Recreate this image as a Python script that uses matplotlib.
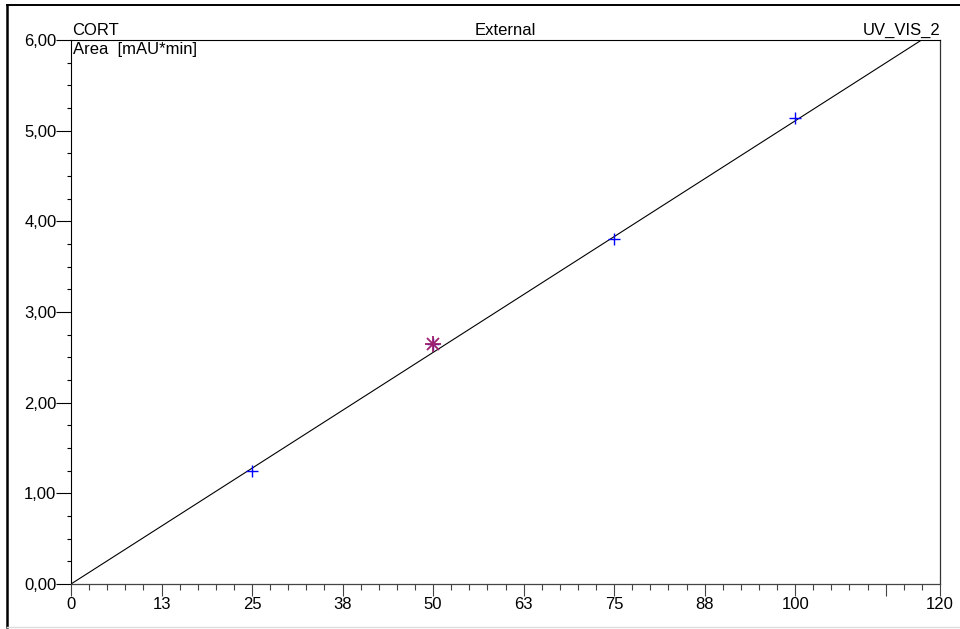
import numpy as np
import matplotlib.pyplot as plt
from matplotlib.lines import Line2D
from matplotlib.ticker import MultipleLocator, FixedLocator, FixedFormatter

plt.rcParams['font.family'] = ['Liberation Sans', 'DejaVu Sans']

# calibration standards
conc = [25, 50, 75, 100]
area = [1.25, 2.65, 3.80, 5.14]
highlight_x = [50]
highlight_y = [2.65]

# calibration line
fit_x = [0, 120]
fit_y = [0, 6.13]

x_ticks = [0, 12.5, 25, 37.5, 50, 62.5, 75, 87.5, 100, 112.5, 120]
x_labels = ['0', '13', '25', '38', '50', '63', '75', '88', '100', '', '120']
y_ticks = [0, 1, 2, 3, 4, 5, 6]
y_labels = ['0,00', '1,00', '2,00', '3,00', '4,00', '5,00', '6,00']

fig = plt.figure(figsize=(9.6, 6.29), dpi=100)
ax = fig.add_axes([71 / 960, 45 / 629, 869 / 960, 544 / 629])

ax.plot(fit_x, fit_y, color='black', linewidth=0.8, zorder=2)
ax.plot(conc, area, linestyle='none', marker='+', color='#0000ff',
        markersize=9, markeredgewidth=1.0, zorder=3)
ax.plot(highlight_x, highlight_y, linestyle='none', marker='+', color='#9e1f6e',
        markersize=12, markeredgewidth=1.3, zorder=4)
ax.plot(highlight_x, highlight_y, linestyle='none', marker='x', color='#9e1f6e',
        markersize=8, markeredgewidth=1.3, zorder=4)

ax.set_xlim(0, 120)
ax.set_ylim(0, 6)

ax.xaxis.set_major_locator(FixedLocator(x_ticks))
ax.xaxis.set_major_formatter(FixedFormatter(x_labels))
ax.xaxis.set_minor_locator(MultipleLocator(2.5))
ax.yaxis.set_major_locator(FixedLocator(y_ticks))
ax.yaxis.set_major_formatter(FixedFormatter(y_labels))
ax.yaxis.set_minor_locator(MultipleLocator(0.25))

ax.tick_params(axis='x', which='major', direction='out', length=8.6, width=0.8,
               color='#444444', labelsize=12, pad=1)
ax.tick_params(axis='x', which='minor', direction='out', length=4.3, width=0.8,
               color='#444444')
ax.tick_params(axis='y', which='major', direction='out', length=10.5, width=0.8,
               labelsize=12, pad=0)
ax.tick_params(axis='y', which='minor', direction='out', length=3.2, width=0.8)

for side in ['top', 'left']:
    ax.spines[side].set_linewidth(0.8)
    ax.spines[side].set_color('black')
ax.spines['right'].set_linewidth(0.9)
ax.spines['right'].set_color('#333333')
ax.spines['bottom'].set_linewidth(0.9)
ax.spines['bottom'].set_color('#444444')

ax.text(0.001, 1.004, 'CORT', transform=ax.transAxes, ha='left', va='bottom', fontsize=12)
ax.text(0.5, 1.004, 'External', transform=ax.transAxes, ha='center', va='bottom', fontsize=12)
ax.text(1.0, 1.004, 'UV_VIS_2', transform=ax.transAxes, ha='right', va='bottom', fontsize=12)
ax.text(0.002, 0.997, 'Area  [mAU*min]', transform=ax.transAxes, ha='left', va='top', fontsize=12)

# outer frame of the report page
fig.add_artist(Line2D([7 / 960, 7 / 960], [1 - 5 / 629, 1 - 627 / 629],
                      transform=fig.transFigure, color='black', linewidth=1.8))
fig.add_artist(Line2D([7 / 960, 1.0], [1 - 5 / 629, 1 - 5 / 629],
                      transform=fig.transFigure, color='black', linewidth=1.4))
fig.add_artist(Line2D([7 / 960, 1.0], [1 - 627 / 629, 1 - 627 / 629],
                      transform=fig.transFigure, color='#dddddd', linewidth=1.0))

fig.savefig('out.png', dpi=100)
